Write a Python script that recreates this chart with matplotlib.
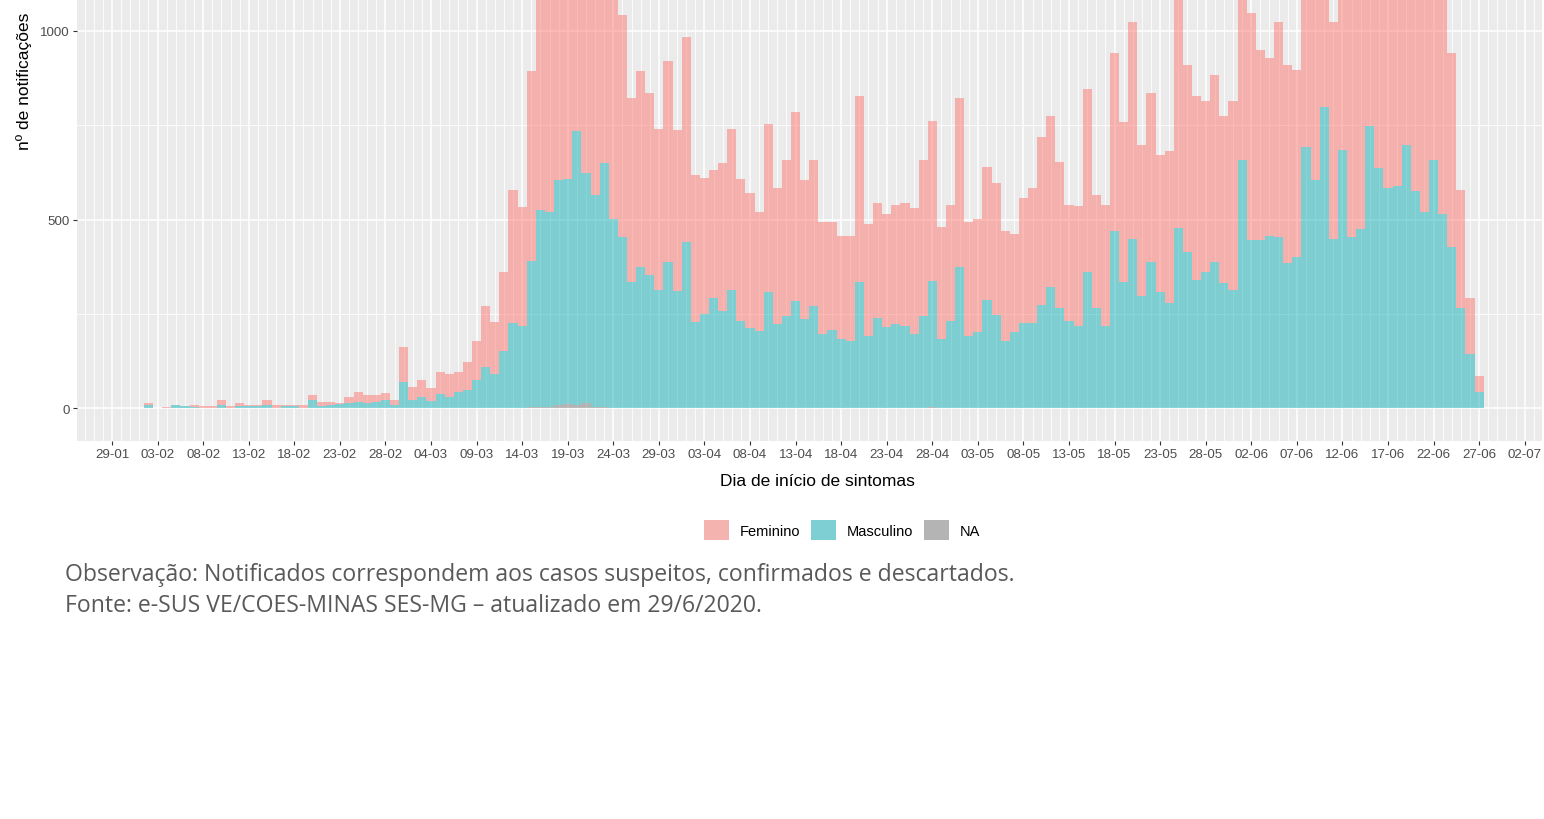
import numpy as np
import pandas as pd
import matplotlib.pyplot as plt
import matplotlib.dates as mdates
from matplotlib.patches import Patch

# notificações por dia de início de sintomas (02-02 a 27-06)
dias = pd.date_range('2020-02-02', '2020-06-27', freq='D')

feminino = [5, 0, 4, 0, 0, 5, 5, 5, 13, 5,
            8, 3, 3, 13, 9, 4, 4, 9, 13, 12,
            8, 2, 18, 26, 21, 17, 18, 13, 92, 34,
            43, 33, 57, 60, 53, 74, 104, 161, 137, 209,
            353, 316, 502, 724, 781, 745, 791, 714, 757, 734,
            551, 648, 589, 488, 518, 483, 427, 533, 427, 545,
            391, 361, 341, 392, 427, 378, 358, 313, 444, 361,
            414, 500, 368, 388, 296, 285, 273, 278, 493, 297,
            305, 300, 317, 327, 334, 414, 424, 296, 309, 449,
            302, 301, 353, 349, 292, 261, 331, 358, 444, 453,
            388, 309, 318, 485, 301, 323, 470, 423, 574, 401,
            449, 362, 404, 671, 498, 488, 453, 497, 444, 502,
            462, 601, 504, 471, 572, 527, 495, 607, 644, 602,
            575, 816, 897, 925, 971, 864, 866, 812, 852, 875,
            781, 742, 735, 514, 314, 148, 44]

masculino = [9, 0, 0, 9, 5, 3, 0, 0, 9, 0,
             5, 5, 5, 9, 0, 5, 5, 0, 22, 5,
             9, 11, 13, 17, 13, 17, 22, 9, 70, 22,
             31, 20, 38, 31, 42, 48, 75, 109, 91, 153,
             226, 215, 387, 522, 515, 597, 597, 726, 608, 562,
             645, 502, 451, 335, 375, 353, 313, 387, 310, 440,
             228, 249, 291, 257, 313, 231, 213, 206, 309, 223,
             244, 284, 237, 270, 197, 208, 184, 179, 335, 191,
             239, 215, 223, 217, 197, 244, 335, 184, 231, 374,
             191, 201, 287, 248, 179, 201, 226, 226, 275, 322,
             265, 231, 217, 360, 265, 217, 471, 335, 449, 297,
             387, 309, 279, 479, 413, 340, 362, 387, 331, 313,
             658, 446, 446, 457, 453, 384, 402, 693, 606, 798,
             450, 684, 453, 475, 749, 636, 584, 588, 698, 575,
             519, 658, 515, 427, 265, 144, 42]

na = [0, 0, 0, 0, 0, 0, 0, 0, 0, 0,
      0, 0, 0, 0, 0, 0, 0, 0, 0, 0,
      0, 0, 0, 0, 0, 0, 0, 0, 0, 0,
      0, 0, 0, 0, 0, 0, 0, 0, 0, 0,
      0, 2, 4, 4, 4, 8, 12, 10, 15, 4,
      4, 0, 2, 0, 0, 0, 0, 0, 0, 0,
      0, 0, 0, 0, 0, 0, 0, 0, 0, 0,
      0, 0, 0, 0, 0, 0, 0, 0, 0, 0,
      0, 0, 0, 0, 0, 0, 3, 0, 0, 0,
      0, 0, 0, 0, 0, 0, 0, 0, 0, 0,
      0, 0, 0, 0, 0, 0, 0, 0, 0, 0,
      0, 0, 0, 0, 0, 0, 0, 0, 0, 0,
      0, 0, 0, 0, 0, 0, 0, 0, 0, 0,
      0, 0, 0, 0, 0, 0, 0, 0, 0, 0,
      0, 0, 0, 0, 0, 0, 0]

legendas = ['Feminino', 'Masculino', 'NA']
cores = ['#FD776F', '#11B1B9', '#7D7D7D']
cores_chave = ['#F4B3AF', '#7ECFD3', '#B4B4B4']

plt.rcParams['font.family'] = ['Liberation Sans', 'DejaVu Sans']

fem = np.array(feminino)
mas = np.array(masculino)
nas = np.array(na)

fig = plt.figure(figsize=(15.44, 8.2), dpi=100)
ax = fig.add_axes([76.5 / 1544, 1 - 441.7 / 820, (1542 - 76.5) / 1544, 441.7 / 820])
ax.set_facecolor('#EBEBEB')

ax.bar(dias, nas, width=1, color=cores[2], alpha=0.5, linewidth=0)
ax.bar(dias, mas, width=1, bottom=nas, color=cores[1], alpha=0.5, linewidth=0)
ax.bar(dias, fem, width=1, bottom=nas + mas, color=cores[0], alpha=0.5, linewidth=0)

ticks = pd.date_range('2020-01-29', '2020-07-02', freq='5D')
ax.set_xticks(ticks)
ax.set_xticklabels([t.strftime('%d-%m') for t in ticks])
ax.set_xticks(pd.date_range('2020-01-25', '2020-07-05', freq='D'), minor=True)
ax.set_yticks([0, 500, 1000])
ax.set_yticks([250, 750], minor=True)

# limites depois dos ticks (set_xticks expande a vista)
inicio = mdates.date2num(pd.Timestamp('2020-01-29'))
ax.set_xlim(inicio - 3.9, inicio + 156.9)
ax.set_ylim(-85.9, 1084.8)

ax.set_axisbelow(True)
ax.grid(which='major', color='white', linewidth=1.1)
ax.grid(which='minor', color='white', linewidth=0.6)
for s in ax.spines.values():
    s.set_visible(False)
ax.tick_params(which='major', length=3, width=0.8, color='#333333',
               labelcolor='#4D4D4D', labelsize=9.6, pad=2)
ax.tick_params(which='minor', length=0)

fig.text(817 / 1544, 1 - 482 / 820, 'Dia de início de sintomas', fontsize=12.5,
         ha='center', va='center')
fig.text(24 / 1544, 1 - 81 / 820, 'nº de notificações', fontsize=12.5,
         rotation=90, ha='center', va='center')

handles = [Patch(facecolor=c, edgecolor='none') for c in cores_chave]
fig.legend(handles, legendas, ncol=3, loc='center',
           bbox_to_anchor=(842 / 1544, 1 - 531 / 820), frameon=False,
           fontsize=10.5, handlelength=1.7, handleheight=1.7,
           handletextpad=0.75, columnspacing=0.75)

fig.text(65 / 1544, 1 - 575 / 820,
         'Observação: Notificados correspondem aos casos suspeitos, confirmados e descartados.',
         fontsize=16.6, family='Open Sans', color='#595959', va='center')
fig.text(65 / 1544, 1 - 606 / 820,
         'Fonte: e-SUS VE/COES-MINAS SES-MG – atualizado em 29/6/2020.',
         fontsize=16.6, family='Open Sans', color='#595959', va='center')

fig.savefig('out.png', dpi=100, facecolor='white')
